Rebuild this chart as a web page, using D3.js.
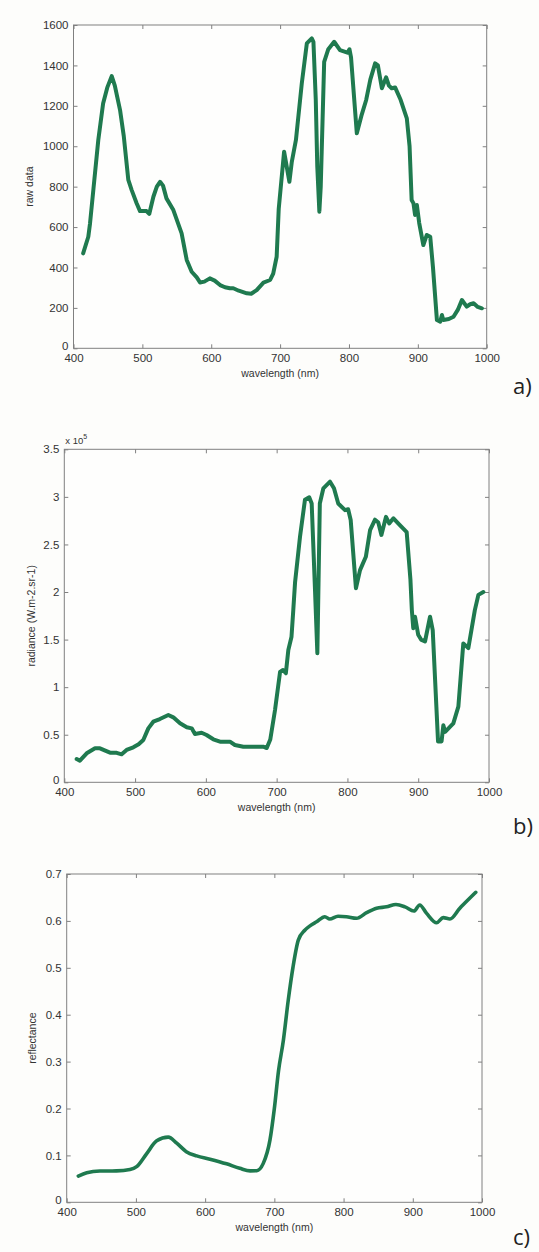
<!DOCTYPE html>
<html>
<head>
<meta charset="utf-8">
<script src="https://cdn.jsdelivr.net/npm/d3@7"></script>
<style>
  body { margin: 0; background: #fdfdfb; }
  svg { display: block; }
  .tick text { font-family: "Liberation Sans", Arial, sans-serif; font-size: 11.5px; fill: #333; }
  .lbl { font-family: "Liberation Sans", Arial, sans-serif; font-size: 10.5px; fill: #333; }
  .tag { font-family: "Open Sans", "Noto Sans", sans-serif; font-size: 22px; fill: #222; }
</style>
</head>
<body>
<svg id="chart"></svg>
<script>
// wavelength axis shared by all three panels
var wlTicks = [400, 500, 600, 700, 800, 900, 1000];

// a) raw data
var rawWl = [414, 421.5, 424, 429, 436, 443, 449, 455.5, 460, 467.6, 473, 479.6, 484.5, 491.8, 496.6, 501, 506, 510, 516, 521, 525.7, 530, 535, 545, 557, 564.4, 571.6, 579, 583.7, 590, 598, 605, 612.8, 620, 627, 632, 640, 651.6, 658, 666, 675.8, 685.5, 690, 695, 698, 705.8, 713.5, 717, 723, 731.5, 738.8, 746, 748.4, 751.8, 754, 757, 759, 764, 770, 778.5, 787, 797.8, 800.7, 803, 811.4, 818, 825, 831, 838, 842, 847.8, 854, 858, 862, 867, 875, 884, 888, 891, 893.7, 896, 898.6, 902, 908, 913, 918, 922, 927.7, 932.5, 935, 937, 945, 951.8, 958, 964, 971, 976, 981, 987, 993];
var rawVal = [470, 552, 618, 790, 1031, 1212, 1290, 1347, 1300, 1179, 1050, 833, 783, 717, 679, 680, 679, 665, 750, 800, 824, 805, 742, 684, 569, 437, 379, 351, 326, 330, 346, 335, 313, 302, 297, 297, 285, 272, 270, 288, 325, 338, 370, 453, 690, 973, 824, 923, 1031, 1311, 1509, 1534, 1517, 1229, 899, 676, 800, 1418, 1480, 1517, 1476, 1463, 1480, 1440, 1064, 1150, 1229, 1330, 1410, 1400, 1287, 1341, 1300, 1287, 1291, 1230, 1138, 1000, 734, 717, 660, 709, 620, 511, 561, 552, 400, 140, 132, 165, 140, 145, 156, 190, 239, 206, 218, 223, 205, 198];
var rawTicks = [0, 200, 400, 600, 800, 1000, 1200, 1400, 1600];

// b) radiance, in units of 1e5
var radWl = [417.5, 422, 431.6, 443.4, 450.4, 457, 464.6, 474, 481, 488, 497.5, 505, 511.6, 518.7, 525.7, 535, 547, 554, 563.5, 573, 580, 584.6, 594, 601, 610.5, 620, 634, 641, 653, 667, 681, 686, 691, 697.7, 704.8, 709, 713, 716.5, 721, 723.5, 726, 733, 740, 746, 749.5, 754, 757.5, 761, 766, 775.4, 781, 787, 796.6, 801, 804.6, 812, 817.8, 826, 832, 839, 843.6, 848, 854.5, 859, 865, 872, 883.7, 889, 891, 893, 895.5, 900, 904, 909.6, 916.7, 920.5, 928, 933, 935.5, 938, 949.6, 956.7, 963.7, 970.8, 980, 985, 992];
var radVal = [0.245, 0.227, 0.305, 0.357, 0.357, 0.335, 0.311, 0.31, 0.294, 0.34, 0.368, 0.40, 0.445, 0.567, 0.637, 0.665, 0.707, 0.683, 0.62, 0.578, 0.567, 0.508, 0.521, 0.497, 0.452, 0.427, 0.427, 0.392, 0.374, 0.374, 0.374, 0.36, 0.45, 0.76, 1.16, 1.18, 1.146, 1.39, 1.53, 1.81, 2.1, 2.58, 2.97, 2.995, 2.93, 2.06, 1.356, 2.93, 3.09, 3.16, 3.09, 2.93, 2.86, 2.87, 2.757, 2.04, 2.23, 2.37, 2.65, 2.76, 2.73, 2.6, 2.79, 2.72, 2.775, 2.72, 2.63, 2.13, 1.81, 1.62, 1.74, 1.55, 1.5, 1.48, 1.74, 1.6, 0.43, 0.43, 0.60, 0.53, 0.62, 0.795, 1.46, 1.41, 1.81, 1.97, 2.0];
var radTicks = [0, 0.5, 1, 1.5, 2, 2.5, 3, 3.5];

// c) reflectance
var refWl = [416.8, 429, 448, 472, 491.4, 501, 515.6, 530, 546.8, 559, 572.8, 587.8, 607, 631, 650, 665, 674.5, 684, 693.7, 700, 706, 713, 720, 727, 734.6, 744, 752, 761, 773, 780, 792, 804, 818.8, 833.3, 847.7, 862, 875.7, 888.7, 901.7, 910, 920, 934.5, 944, 953.7, 968, 980, 991];
var refVal = [0.056, 0.063, 0.0667, 0.067, 0.07, 0.076, 0.104, 0.131, 0.139, 0.126, 0.108, 0.099, 0.092, 0.082, 0.0725, 0.067, 0.0674, 0.083, 0.133, 0.2, 0.28, 0.345, 0.43, 0.502, 0.559, 0.58, 0.59, 0.598, 0.609, 0.604, 0.610, 0.609, 0.6055, 0.6175, 0.627, 0.630, 0.635, 0.630, 0.621, 0.634, 0.616, 0.596, 0.607, 0.604, 0.627, 0.645, 0.661];
var refTicks = [0, 0.1, 0.2, 0.3, 0.4, 0.5, 0.6, 0.7];

var W = 539, H = 1252;
var lineColor = "#1f7a4f";
var axisColor = "#808080";

var svg = d3.select("#chart").attr("width", W).attr("height", H);

var panels = [
    { x0: 73.5, x1: 486.7, y0: 25, y1: 348.3, wl: rawWl, val: rawVal, ticks: rawTicks, ymax: 1600,
      ylabel: "raw data", ylabX: 33, tag: "a)", tagY: 394, curve: d3.curveLinear, fmt: d3.format("d"), lw: 4 },
    { x0: 64.3, x1: 489, y0: 449.3, y1: 782.3, wl: radWl, val: radVal, ticks: radTicks, ymax: 3.5,
      ylabel: "radiance (W.m-2.sr-1)", ylabX: 35, tag: "b)", tagY: 834, curve: d3.curveLinear, fmt: d3.format("~g"), exp: true, lw: 4 },
    { x0: 66.7, x1: 482, y0: 874, y1: 1202.3, wl: refWl, val: refVal, ticks: refTicks, ymax: 0.7,
      ylabel: "reflectance", ylabX: 36, tag: "c)", tagY: 1245, curve: d3.curveMonotoneX, fmt: d3.format("~g"), lw: 3.6 }
];

panels.forEach(function (p) {
    var x = d3.scaleLinear().domain([400, 1000]).range([p.x0, p.x1]);
    var y = d3.scaleLinear().domain([0, p.ymax]).range([p.y1, p.y0]);
    var g = svg.append("g");

    // box
    g.append("rect")
        .attr("x", p.x0).attr("y", p.y0)
        .attr("width", p.x1 - p.x0).attr("height", p.y1 - p.y0)
        .attr("fill", "#fefefd").attr("stroke", axisColor).attr("stroke-width", 1);

    // bottom + left axes with labels, ticks pointing inside
    var xAxis = g.append("g").attr("transform", "translate(0," + p.y1 + ")")
        .call(d3.axisBottom(x).tickValues(wlTicks).tickSize(-4).tickPadding(6).tickFormat(d3.format("d")));
    var yAxis = g.append("g").attr("transform", "translate(" + p.x0 + ",0)")
        .call(d3.axisLeft(y).tickValues(p.ticks).tickSize(-4).tickPadding(5).tickFormat(p.fmt));
    // top + right ticks only
    var xTop = g.append("g").attr("transform", "translate(0," + p.y0 + ")")
        .call(d3.axisTop(x).tickValues(wlTicks).tickSize(-4).tickFormat(""));
    var yRight = g.append("g").attr("transform", "translate(" + p.x1 + ",0)")
        .call(d3.axisRight(y).tickValues(p.ticks).tickSize(-4).tickFormat(""));

    [xAxis, yAxis, xTop, yRight].forEach(function (a) {
        a.select(".domain").remove();
        a.selectAll(".tick line").attr("stroke", axisColor);
    });
    // the zero label sits a bit above the corner so it clears "400"
    yAxis.selectAll(".tick text").filter(function (d) { return d === 0; }).attr("dy", "0.1em");

    // the curve
    var pts = p.wl.map(function (w, i) { return [w, p.val[i]]; });
    g.append("path")
        .datum(pts)
        .attr("fill", "none")
        .attr("stroke", lineColor)
        .attr("stroke-width", p.lw)
        .attr("stroke-linejoin", "round")
        .attr("stroke-linecap", "round")
        .attr("d", d3.line().curve(p.curve)
            .x(function (d) { return x(d[0]); })
            .y(function (d) { return y(d[1]); }));

    g.append("text").attr("class", "lbl")
        .attr("x", (p.x0 + p.x1) / 2).attr("y", p.y1 + 29)
        .attr("text-anchor", "middle")
        .text("wavelength (nm)");

    g.append("text").attr("class", "lbl")
        .attr("transform", "translate(" + p.ylabX + "," + ((p.y0 + p.y1) / 2) + ") rotate(-90)")
        .attr("text-anchor", "middle")
        .text(p.ylabel);

    if (p.exp) {
        var t = g.append("text").attr("class", "lbl").style("font-size", "9.5px")
            .attr("x", p.x0 + 1).attr("y", p.y0 - 5);
        t.append("tspan").text("x 10");
        t.append("tspan").attr("dy", -5).style("font-size", "7px").text("5");
    }

    g.append("text").attr("class", "tag")
        .attr("x", 513).attr("y", p.tagY)
        .text(p.tag);
});
</script>
</body>
</html>
